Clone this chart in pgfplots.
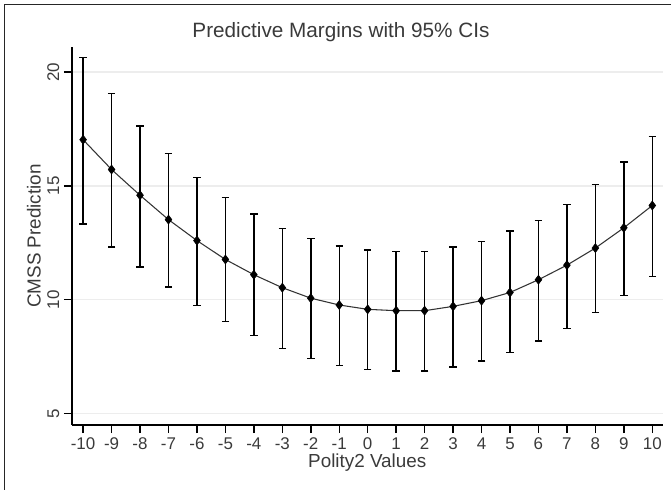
\documentclass[border=0pt]{standalone}
\usepackage{fontspec}
\setmainfont{Liberation Sans}
\usepackage{pgfplots}
\usepackage{pgfplotstable}
\pgfplotsset{compat=1.18}
\definecolor{txt}{HTML}{3A3A3A}
\definecolor{gridc}{HTML}{EDEDED}
\pgfplotstableread{
x y ep em
-10 17.03 3.60 3.71
-9 15.72 3.33 3.41
-8 14.59 3.04 3.16
-7 13.52 2.91 2.96
-6 12.60 2.78 2.85
-5 11.77 2.73 2.72
-4 11.10 2.66 2.68
-3 10.53 2.60 2.66
-2 10.07 2.61 2.64
-1 9.77 2.60 2.65
0 9.58 2.61 2.65
1 9.52 2.60 2.65
2 9.52 2.60 2.65
3 9.71 2.60 2.66
4 9.96 2.60 2.65
5 10.32 2.69 2.63
6 10.88 2.61 2.69
7 11.52 2.66 2.79
8 12.27 2.80 2.84
9 13.16 2.89 2.97
10 14.14 3.04 3.13
}\datatable
\begin{document}
\begin{tikzpicture}
\useasboundingbox (0,0) rectangle (503.25bp,-367.5bp);
\draw[line width=1.1bp, black!85] (3.375bp,-367.5bp) -- (3.375bp,-3.375bp) -- (503.25bp,-3.375bp);
\node[font=\fontsize{15.6}{18}\selectfont, text=txt] at (255.75bp,-24bp) {Predictive Margins with 95\% CIs};
\begin{axis}[
  at={(54bp,-318.75bp)}, anchor=south west,
  scale only axis, width=442.9bp, height=283.5bp,
  xmin=-10.39, xmax=10.36, ymin=4.5, ymax=21.1,
  axis lines*=left,
  axis line style={line width=1.1bp, black},
  xtick={-10,-9,...,10}, ytick={5,10,15,20},
  tick align=outside, major tick length=6bp,
  tick style={line width=1.1bp, black},
  ymajorgrids, grid style={color=gridc, line width=1.1bp},
  /pgf/number format/assume math mode=true,
  tick label style={font=\fontsize{12.75}{15}\selectfont, text=txt},
  yticklabel style={rotate=90, anchor=south},
  xlabel={Polity2 Values}, ylabel={CMSS Prediction},
  label style={font=\fontsize{14.2}{17}\selectfont, text=txt},
  xlabel style={at={(axis description cs:0.5,-0.1005)}, anchor=center},
  ylabel style={at={(axis description cs:-0.0644,0.5)}, anchor=center},
  clip=false,
]
\addplot[color=black!80, line width=0.8bp, mark=none] table[x=x, y=y] {\datatable};
\addplot[only marks, mark=diamond*, mark size=3.4bp, black,
  error bars/.cd, y dir=both, y explicit,
  error bar style={line width=1.1bp, black},
  error mark options={rotate=90, mark size=2.8bp, line width=1.1bp, black}]
  table[x=x, y=y, y error plus=ep, y error minus=em] {\datatable};
\end{axis}
\end{tikzpicture}
\end{document}
